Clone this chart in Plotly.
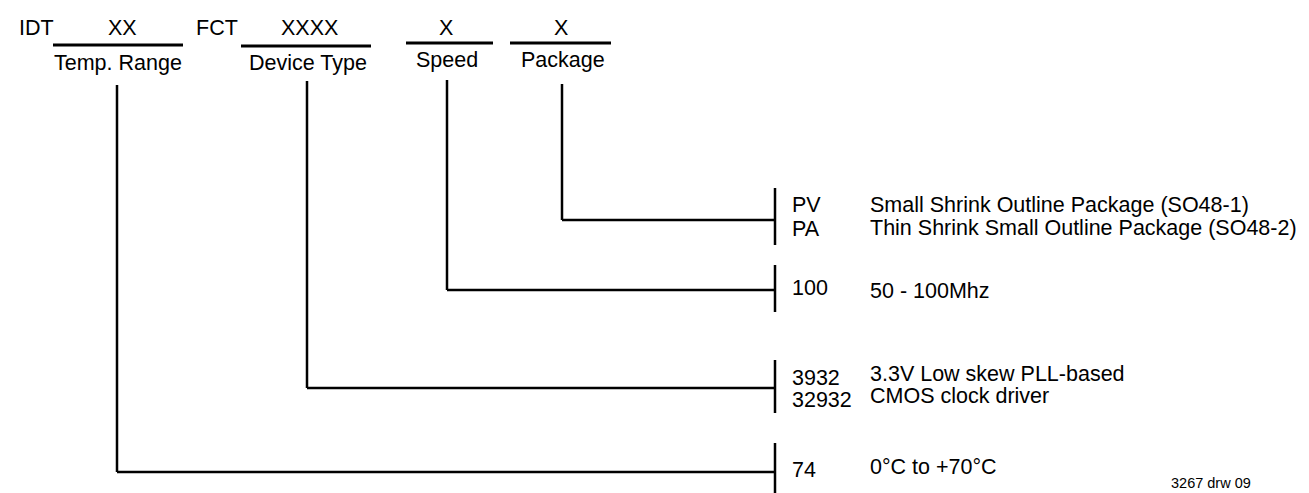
import plotly.graph_objects as go

# ---- content ----
header_tokens = ["IDT", "XX", "FCT", "XXXX", "X", "X"]
field_names = ["Temp. Range", "Device Type", "Speed", "Package"]
field_placeholders = ["XX", "XXXX", "X", "X"]
option_codes = [["PV", "PA"], ["100"], ["3932", "32932"], ["74"]]          # package, speed, device, temp
option_descr = [["Small Shrink Outline Package (SO48-1)", "Thin Shrink Small Outline Package (SO48-2)"],
                ["50 - 100Mhz"],
                ["3.3V Low skew PLL-based", "CMOS clock driver"],
                ["0°C to +70°C"]]
drawing_id = "3267 drw 09"

# ---- layout (pixel space) ----
W, H = 1309, 493
FONT = "Liberation Sans, Arial, sans-serif"
FS = 21.5
LW = 2.5

# per field (temp, device, speed, package)
ph_cx = [114, 301, 438, 553]
ul_x0 = [45, 233, 398, 502]
ul_x1 = [175, 363, 485, 603]
ul_y = [37, 38, 35, 35]
lbl_cx = [110, 300, 439, 555]
lbl_cy = [55, 55, 52, 52]
drop_x = [109, 299, 439, 554]
drop_y0 = [77, 73, 72, 76]
bracket_x = 767
# options in order package, speed, device, temp
br_y0 = [180, 257, 352, 435]
br_y1 = [237, 304, 405, 493]
br_hy = [212, 282, 380, 464]
code_x = 783
code_y = [[197, 221], [280], [370, 392], [462]]
desc_x = 861
desc_y = [[197, 220], [283], [366, 388], [459]]

fig = go.Figure()
fig.add_trace(go.Scatter(x=[0, W], y=[0, H], mode="markers", marker=dict(opacity=0), hoverinfo="skip", showlegend=False))

shapes = []
ann = []

def txt(x, y, s, anchor="center", size=FS):
    ann.append(dict(x=x, y=y, text=s, showarrow=False, xanchor=anchor, yanchor="middle",
                    font=dict(family=FONT, size=size, color="black"), xref="x", yref="y",
                    borderpad=0))

def line(x0, y0, x1, y1, w=LW):
    shapes.append(dict(type="line", x0=x0, y0=y0, x1=x1, y1=y1, xref="x", yref="y",
                       line=dict(color="black", width=w)))

# header
txt(10, 20, header_tokens[0], "left")
txt(187, 20, header_tokens[2], "left")
for i in range(4):
    txt(ph_cx[i], 20, field_placeholders[i])
    line(ul_x0[i], ul_y[i], ul_x1[i], ul_y[i], 3)
    txt(lbl_cx[i], lbl_cy[i], field_names[i])

# drop lines: field i connects to option bracket (3 - i)
for i in range(4):
    j = 3 - i
    line(drop_x[i], drop_y0[i], drop_x[i], br_hy[j])
    line(drop_x[i], br_hy[j], bracket_x, br_hy[j])

for j in range(4):
    line(bracket_x, br_y0[j], bracket_x, br_y1[j])
    for k, c in enumerate(option_codes[j]):
        txt(code_x, code_y[j][k], c, "left")
    for k, d in enumerate(option_descr[j]):
        txt(desc_x, desc_y[j][k], d, "left")

txt(1162, 475, drawing_id, "left", 14.5)

fig.update_layout(
    width=W, height=H, margin=dict(l=0, r=0, t=0, b=0),
    paper_bgcolor="white", plot_bgcolor="white",
    xaxis=dict(range=[0, W], visible=False, fixedrange=True),
    yaxis=dict(range=[H, 0], visible=False, fixedrange=True),
    shapes=shapes, annotations=ann, showlegend=False,
)
fig.write_html("out.html")
